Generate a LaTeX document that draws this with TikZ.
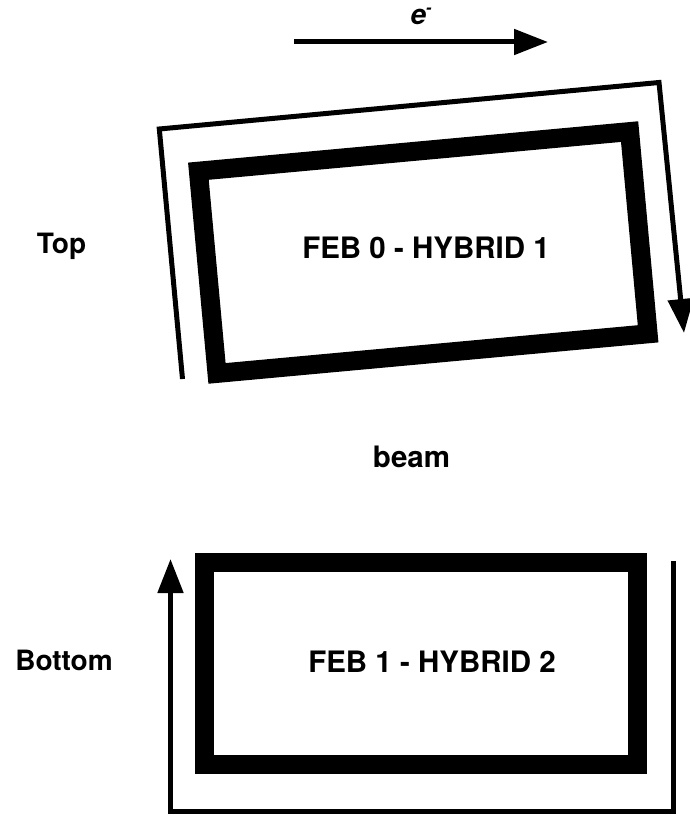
\documentclass[tikz,border=0pt]{standalone}
\usepackage{fontspec}
\setmainfont{TeX Gyre Heros}
\usetikzlibrary{arrows.meta}
\begin{document}
\begin{tikzpicture}[x=1pt,y=-1pt,
  wire/.style={line width=5pt},
  frame/.style={line width=19pt, line join=miter},
  tipped/.style={-{Triangle[length=34pt,width=25pt]}},
  lbl/.style={font=\bfseries\fontsize{29.5}{32}\selectfont, anchor=base, inner sep=0pt},
  side/.style={font=\bfseries\fontsize{28}{30}\selectfont, anchor=base, inner sep=0pt}]
\useasboundingbox (0,0) rectangle (690,816);
% electron direction arrow
\coordinate (eS) at (294,42);
\coordinate (eE) at (548,42);
\draw[wire,tipped] (eS) -- (eE);
\node[anchor=base, inner sep=0pt] (elabel) at (421,25)
  {\bfseries\itshape\fontsize{28}{30}\selectfont e\raisebox{0.42em}{\fontsize{16}{16}\selectfont -}};
% top module (tilted)
\coordinate (t1) at (198.4,171.2);
\coordinate (t2) at (629.6,131.6);
\coordinate (t3) at (648.1,333.8);
\coordinate (t4) at (217.0,373.4);
\draw[frame] (t1) -- (t2) -- (t3) -- (t4) -- cycle;
\coordinate (ta) at (182.5,379);
\coordinate (tb) at (159.3,129);
\coordinate (tc) at (659,82.5);
\coordinate (td) at (684,333);
\draw[wire,tipped,line join=miter] (ta) -- (tb) -- (tc) -- (td);
% bottom module
\coordinate (b1) at (204.5,562.5);
\coordinate (b3) at (637.5,764.5);
\draw[frame] (b1) rectangle (b3);
\coordinate (ba) at (673,561);
\coordinate (bb) at (673,811);
\coordinate (bc) at (170.5,811);
\coordinate (bd) at (170.5,559);
\draw[wire,tipped,line join=miter] (ba) -- (bb) -- (bc) -- (bd);
% labels
\node[lbl] (feb0) at (426,258) {FEB 0 - HYBRID 1};
\node[lbl] (feb1) at (432,672) {FEB 1 - HYBRID 2};
\node[side] (top) at (61.5,253) {Top};
\node[side] (bottom) at (64,670) {Bottom};
\node[lbl] (beam) at (411.5,467) {beam};
\end{tikzpicture}
\end{document}
